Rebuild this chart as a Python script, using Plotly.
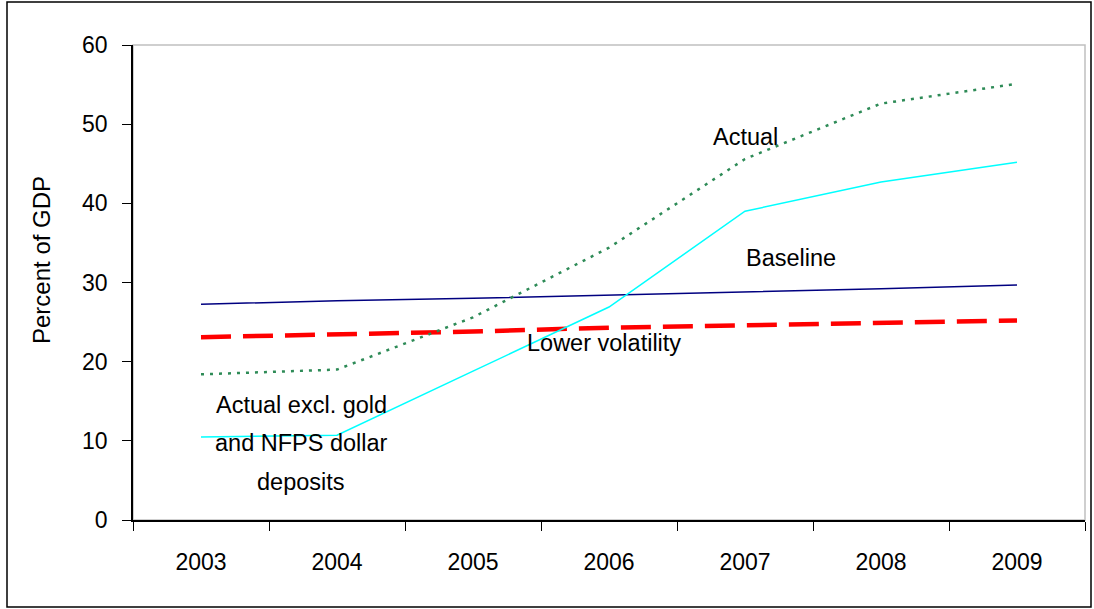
import plotly.graph_objects as go

years = ["2003", "2004", "2005", "2006", "2007", "2008", "2009"]
actual = [18.4, 19.0, 25.6, 34.4, 45.6, 52.6, 55.1]
actual_excl = [10.5, 10.7, 18.8, 26.9, 39.0, 42.7, 45.2]
baseline = [27.25, 27.7, 28.0, 28.4, 28.8, 29.2, 29.7]
lower_volatility = [23.1, 23.4, 23.8, 24.3, 24.6, 24.9, 25.2]
y_ticks = [0, 10, 20, 30, 40, 50, 60]

FONT = "Liberation Sans, Arial, sans-serif"
FS = 23.5
TFS = 23

fig = go.Figure()
fig.add_trace(go.Scatter(x=years, y=baseline, mode="lines",
                         line=dict(color="#000080", width=1.5), name="Baseline"))
fig.add_trace(go.Scatter(x=years, y=lower_volatility, mode="lines",
                         line=dict(color="#FF0000", width=4.5, dash="30px,12px"),
                         name="Lower volatility"))
fig.add_trace(go.Scatter(x=years, y=actual_excl, mode="lines",
                         line=dict(color="#00FFFF", width=1.5),
                         name="Actual excl. gold and NFPS dollar deposits"))
fig.add_trace(go.Scatter(x=years, y=actual, mode="lines",
                         line=dict(color="#2E8B57", width=2.5, dash="3px,6px"),
                         name="Actual"))

W, H = 1094, 609
L, R, T, B = 133, 1085, 45, 520


def px(x):
    return (x - L) / (R - L)


def py(y):
    return (B - y) / (B - T)


annotations = []
for text, x, y in [("Actual", 745, 137), ("Baseline", 791, 258),
                   ("Lower volatility", 604, 343),
                   ("Actual excl. gold", 301, 405),
                   ("and NFPS dollar", 301, 443),
                   ("deposits", 301, 482)]:
    annotations.append(dict(text=text, x=px(x), y=py(y), xref="paper", yref="paper",
                            showarrow=False, xanchor="center", yanchor="middle",
                            font=dict(family=FONT, size=FS, color="black")))
annotations.append(dict(text="Percent of GDP", x=px(41), y=py(260), xref="paper",
                        yref="paper", showarrow=False, textangle=-90,
                        xanchor="center", yanchor="middle",
                        font=dict(family=FONT, size=24, color="black")))

shapes = [
    dict(type="rect", xref="paper", yref="paper", x0=0, x1=1, y0=0, y1=1,
         line=dict(color="#C0C0C0", width=1.5), layer="below"),
    dict(type="rect", xref="paper", yref="paper", x0=px(7), x1=px(1091),
         y0=py(607), y1=py(2), line=dict(color="black", width=1.5)),
]

fig.update_layout(
    width=W, height=H,
    margin=dict(l=L, r=W - R, t=T, b=H - B, pad=0),
    paper_bgcolor="white", plot_bgcolor="white",
    showlegend=False,
    font=dict(family=FONT, size=TFS, color="black"),
    annotations=annotations,
    shapes=shapes,
    xaxis=dict(type="category", range=[-0.5, 6.5], tickson="boundaries",
               ticks="outside", ticklen=9, tickcolor="black", tickwidth=1,
               showline=True, linecolor="black", linewidth=1.5,
               showgrid=False, zeroline=False, ticklabelstandoff=21,
               tickfont=dict(family=FONT, size=TFS)),
    yaxis=dict(range=[0, 60], tickvals=y_ticks, ticktext=[str(v) for v in y_ticks],
               ticks="outside", ticklen=9, tickcolor="black", tickwidth=1,
               showline=True, linecolor="black", linewidth=1.5,
               showgrid=False, zeroline=False, ticklabelstandoff=10,
               tickfont=dict(family=FONT, size=TFS)),
)

fig.write_html("out.html")
